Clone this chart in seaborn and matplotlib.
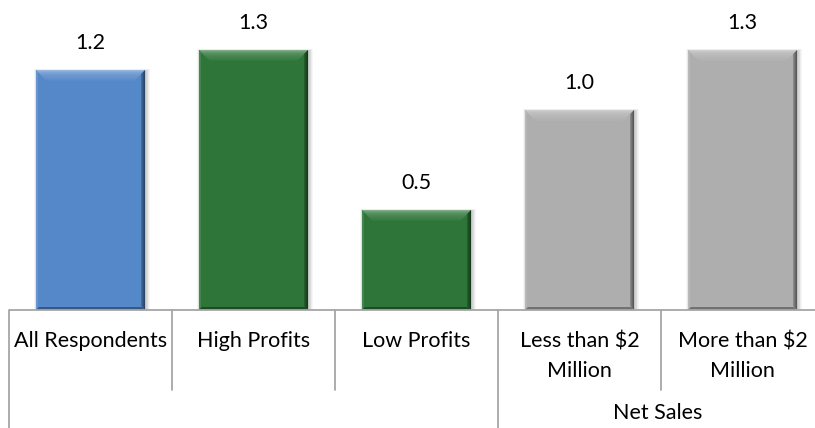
import numpy as np
import pandas as pd
import matplotlib
matplotlib.use("Agg")
import matplotlib.pyplot as plt
from matplotlib.patches import Polygon, Rectangle
from matplotlib.colors import to_rgb
import seaborn as sns

# Chart data
categories = ["All Respondents", "High Profits", "Low Profits",
              "Less than $2\nMillion", "More than $2\nMillion"]
values = [1.2, 1.3, 0.5, 1.0, 1.3]
value_labels = ["1.2", "1.3", "0.5", "1.0", "1.3"]
group_label = "Net Sales"
group_members = [3, 4]  # indices of the categories under the group label

bar_colors = ["#5588C9", "#2D7538", "#2D7538", "#AEAEAE", "#AEAEAE"]

sns.set_theme(style="white")
plt.rcParams["font.family"] = ["Lato", "DejaVu Sans"]

W, H, DPI = 815, 428, 100
fig = plt.figure(figsize=(W / DPI, H / DPI), dpi=DPI)
ax_left_px, axis_y_px = 9, 310
ax = fig.add_axes([ax_left_px / W, (H - axis_y_px) / H, 815 / W, axis_y_px / H])

df = pd.DataFrame({"category": categories, "value": values})
sns.barplot(data=df, x="category", y="value", hue="category",
            palette=bar_colors, legend=False, width=0.67, saturation=1,
            ax=ax, zorder=3)
ax.set_xlim(-0.5, len(categories) - 0.5)
ax.set_ylim(0, 1.55)
ax.set_axis_off()

# data units per pixel
sx = (ax.get_xlim()[1] - ax.get_xlim()[0]) / (ax.get_position().width * W)
sy = (ax.get_ylim()[1] - ax.get_ylim()[0]) / (ax.get_position().height * H)


def mix(c, other, t):
    c = np.array(to_rgb(c)); o = np.array(to_rgb(other))
    return tuple(c * (1 - t) + o * t)


# bevel + soft shadow on each bar
for patch, col in zip(ax.patches, bar_colors):
    x0, y0 = patch.get_x(), patch.get_y()
    w, h = patch.get_width(), patch.get_height()
    x1, top = x0 + w, y0 + h
    patch.set_edgecolor("none")

    # soft shadow
    for k in range(1, 6):
        ax.add_patch(Rectangle((x0 - k * sx * 0.6 + 1.5 * sx, y0),
                               w + k * sx * 1.2, h + k * sy * 0.6 - 1.5 * sy,
                               facecolor="black", alpha=0.035,
                               edgecolor="none", zorder=2, clip_on=False))

    b = 11  # bevel depth in pixels
    n = 10
    for i in range(n):
        d0, d1 = b * i / n, b * (i + 1) / n
        t = i / n
        c = mix(mix(col, "white", 0.4), col, t ** 0.8)
        ax.add_patch(Polygon([(x0 + d0 * sx, top - d0 * sy),
                              (x1 - d0 * sx, top - d0 * sy),
                              (x1 - d1 * sx, top - d1 * sy),
                              (x0 + d1 * sx, top - d1 * sy)],
                             closed=True, facecolor=c, edgecolor="none",
                             zorder=4))
    # right edge (dark)
    r = 4
    for i in range(r):
        c = mix(col, "black", 0.55 - 0.1 * i)
        ax.add_patch(Polygon([(x1 - i * sx, top - i * sy),
                              (x1 - (i + 1) * sx, top - (i + 1) * sy),
                              (x1 - (i + 1) * sx, y0 + (i + 1) * sy),
                              (x1 - i * sx, y0 + i * sy)],
                             closed=True, facecolor=c, edgecolor="none",
                             zorder=5))
    # left edge (slightly lighter)
    ax.add_patch(Polygon([(x0, top), (x0 + 2 * sx, top - 2 * sy),
                          (x0 + 2 * sx, y0 + 2 * sy), (x0, y0)],
                         closed=True, facecolor=mix(col, "white", 0.12),
                         edgecolor="none", zorder=5))
    # bottom edge (dark)
    ax.add_patch(Polygon([(x0, y0), (x1, y0), (x1 - 3 * sx, y0 + 3 * sy),
                          (x0 + 3 * sx, y0 + 3 * sy)],
                         closed=True, facecolor=mix(col, "black", 0.35),
                         edgecolor="none", zorder=5))

# value labels
for patch, lab in zip(ax.patches[:len(values)], value_labels):
    cx = patch.get_x() + patch.get_width() / 2
    ax.annotate(lab, (cx, patch.get_height()), xytext=(0, 19.5),
                textcoords="offset points", ha="center", va="center",
                fontsize=15.5, color="#000000")

# category axis with multi-level labels
line_c = "#A6A6A6"
lw = 1.3
n_cat = len(categories)
ax.plot([-0.5, n_cat - 0.5], [0, 0], color=line_c, lw=lw, clip_on=False,
        zorder=6, solid_capstyle="butt")
row1_bottom = -80 * sy
fig_bottom = -(H - axis_y_px) * sy
group_start = min(group_members) - 0.5
for i in range(n_cat + 1):
    xb = i - 0.5
    if xb in (-0.5, group_start):
        ax.plot([xb, xb], [0, fig_bottom], color=line_c, lw=lw, clip_on=False)
    else:
        ax.plot([xb, xb], [0, row1_bottom], color=line_c, lw=lw, clip_on=False)

for i, cat in enumerate(categories):
    ax.text(i, -21 * sy, cat, ha="center", va="top", fontsize=15.5,
            linespacing=1.62, color="#000000", clip_on=False)

gx = (min(group_members) - 0.5 + max(group_members) + 0.5) / 2
ax.text(gx - 3 * sx, -103 * sy, group_label, ha="center", va="center",
        fontsize=15.5, color="#000000", clip_on=False)

fig.savefig("out.png", dpi=DPI)
